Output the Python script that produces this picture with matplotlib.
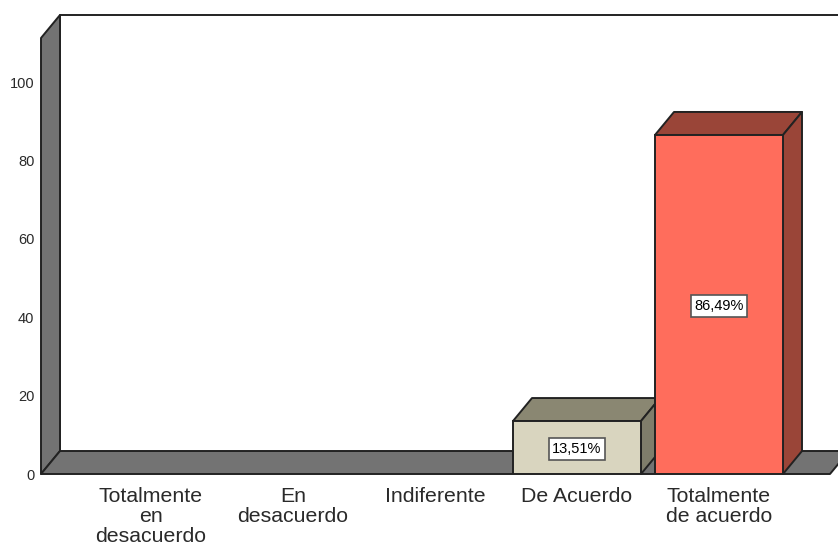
import matplotlib
matplotlib.use('Agg')
import matplotlib.pyplot as plt
from matplotlib.patches import Polygon

categorias = ['Totalmente\nen\ndesacuerdo', 'En\ndesacuerdo', 'Indiferente', 'De Acuerdo', 'Totalmente\nde acuerdo']
valeurs = [0, 0, 0, 13.51, 86.49]
etiquettes = ['', '', '', '13,51%', '86,49%']
yticks = [0, 20, 40, 60, 80, 100]

plt.rcParams['font.family'] = ['Liberation Sans', 'DejaVu Sans']

W, H = 838, 547
PX_X = 142.0   # pixels par categorie
PX_Y = 3.92    # pixels par unite
X0 = 151.0     # pixel du centre de la premiere categorie
Y0 = 474.0     # pixel de y=0
DX = 19 / PX_X
DY = 23 / PX_Y
LARGEUR = 128 / PX_X
NOIR = '#222222'

fig = plt.figure(figsize=(W / 100, H / 100), dpi=100, facecolor='white')
left_px = 41
top_px = 15
ax = fig.add_axes([left_px / W, 1 - Y0 / H, (W - left_px) / W, (Y0 - top_px) / H])
ax.set_xlim((left_px - X0) / PX_X, (W - X0) / PX_X)
ax.set_ylim(0, (Y0 - top_px) / PX_Y)
for s in ax.spines.values():
    s.set_visible(False)


def poly(pts, fc, lw=1.4, z=2):
    ax.add_patch(Polygon(pts, closed=True, facecolor=fc, edgecolor=NOIR, lw=lw,
                         joinstyle='round', zorder=z, clip_on=False))


x_g = ax.get_xlim()[0]
y_h = ax.get_ylim()[1]
x_fin = (830 - X0) / PX_X

# fond blanc, mur gauche et sol
ax.plot([x_g + DX, x_g + DX, 5], [0 + DY, y_h, y_h], color=NOIR, lw=1.4, zorder=1, clip_on=False)
poly([(x_g, 0), (x_g + DX, DY), (x_g + DX, y_h), (x_g, y_h - DY)], '#737373')
poly([(x_g, 0), (x_fin, 0), (x_fin + DX, DY), (x_g + DX, DY)], '#737373')

# barres 3D
couleurs = {3: ('#D9D5BF', '#8A8772', '#7F7D6B'), 4: ('#FF6D5C', '#9A4538', '#9A4538')}
for i, v in enumerate(valeurs):
    if v <= 0:
        continue
    face, dessus, cote = couleurs[i]
    x1 = i - LARGEUR / 2
    x2 = i + LARGEUR / 2
    poly([(x1, v), (x2, v), (x2 + DX, v + DY), (x1 + DX, v + DY)], dessus, z=3 + i)
    poly([(x2, 0), (x2 + DX, DY), (x2 + DX, v + DY), (x2, v)], cote, z=3 + i)
    ax.bar(i, v, width=LARGEUR, color=face, edgecolor=NOIR, lw=1.4, zorder=3 + i)
    ax.text(i, v / 2, etiquettes[i], ha='center', va='center_baseline', fontsize=10.5, color='black', zorder=10,
            bbox=dict(boxstyle='square,pad=0.25', fc='white', ec='#555555', lw=1.2))

ax.set_yticks(yticks)
ax.set_xticks(range(len(categorias)))
ax.set_xticklabels(categorias, fontsize=15.3, linespacing=1.1, color='#2a2a2a')
ax.tick_params(axis='x', length=0, pad=9)
ax.tick_params(axis='y', length=0, pad=7, labelsize=10.5, labelcolor='#2a2a2a')
for t in ax.get_yticklabels():
    t.set_x(0.004)

fig.savefig('out.png', dpi=100)
